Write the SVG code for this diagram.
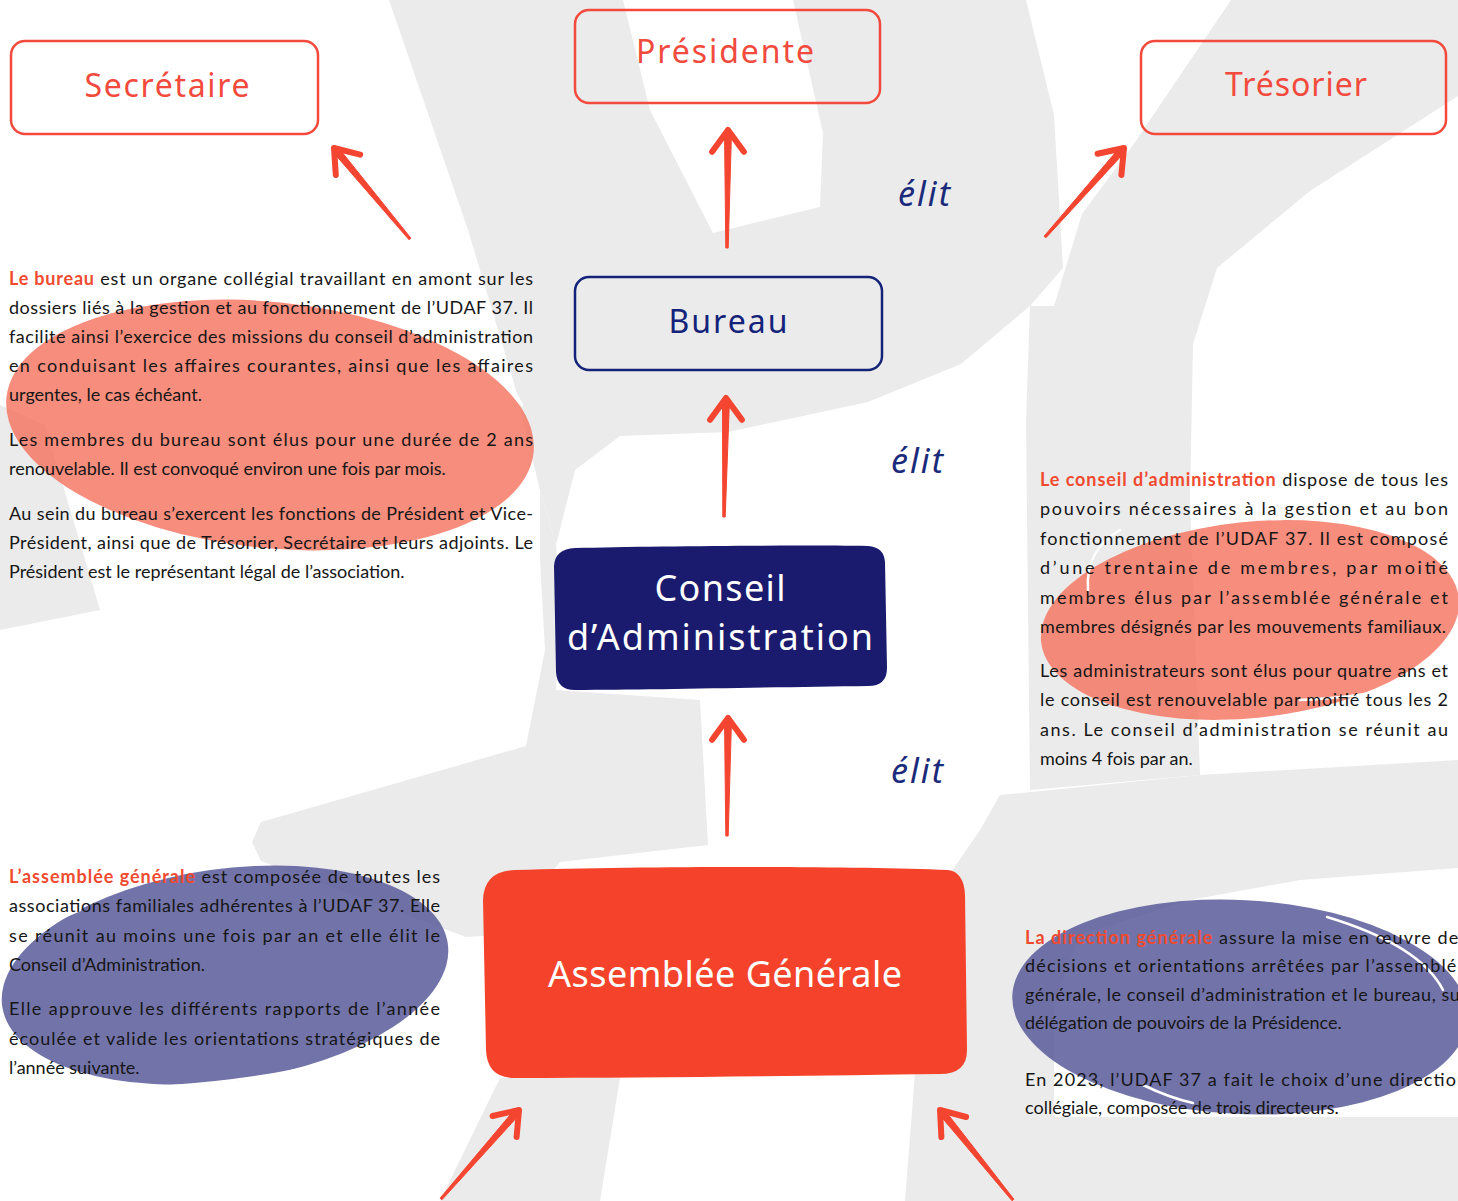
<svg xmlns="http://www.w3.org/2000/svg" width="1458" height="1201" viewBox="0 0 1458 1201">
<defs>
<style>
.bg{fill:#ebebeb}
.outR{fill:none;stroke:#f24a3c;stroke-width:2.5}
.outB{fill:none;stroke:#14237a;stroke-width:2.5}
.lblR{font-family:"Noto Sans",Lato,sans-serif;font-size:32px;fill:#f24a3c;text-anchor:middle}
.lblB{font-family:"Noto Sans",Lato,sans-serif;font-size:32px;fill:#14237a;text-anchor:middle}
.lblW{font-family:"Noto Sans",Lato,sans-serif;font-size:36px;fill:#ffffff;text-anchor:middle}
.elit{font-family:"Noto Sans",Lato,sans-serif;font-style:italic;font-size:34px;fill:#1b2a7a}
.body{font-family:Lato,"Liberation Sans",sans-serif;font-size:18px;fill:#161616}
.hl{fill:#f04a2f;font-weight:bold}
.shaft{fill:#f44531;stroke:#f44531;stroke-width:1;stroke-linejoin:round}
.head{fill:none;stroke:#f44531;stroke-width:6;stroke-linecap:round;stroke-linejoin:round}
.swoosh{fill:none;stroke:#ffffff;stroke-width:2.5;stroke-linecap:round}
</style>
</defs>
<rect width="1458" height="1201" fill="#ffffff"/>
<g id="background">
<path class="bg" d="M389,0 L468,230 L514,383 L540,490 L556,545 L575,470 L620,436 L728,432 L868,402 L961,364 L1030,306 L1063,268 L1054,115 L1026,0 L793,0 L823,133 L820,207 L713,233 L650,110 L623,0 Z"/>
<path class="bg" d="M540,490 L556,545 L560,600 L556,690 L700,700 L708,845 L560,862 L500,935 L466,937 L261,861 L252,842 L261,822 L526,746 L545,650 L540,560 Z"/>
<path class="bg" d="M440,1201 L500,1078 L620,1078 L600,1201 Z"/>
<path class="bg" d="M1231,0 L1458,0 L1458,96 L1310,191 L1217,268 L1193,344 L1190,500 L1200,775 L1030,790 L1026,421 L1030,306 L1054,306 L1082,214 L1133,145 Z"/>
<path class="bg" d="M1000,795 L1200,775 L1458,760 L1458,868 L1300,880 L1190,900 L1080,935 L1054,1000 L1054,1117 L1458,1117 L1458,1201 L905,1201 L928,906 L980,830 Z"/>
<path class="bg" d="M0,405 L45,425 L100,610 L0,630 Z"/>
</g>
<g id="blobs">
<ellipse cx="270" cy="425" rx="265" ry="123" transform="rotate(6 270 425)" fill="#f5705c" fill-opacity="0.8"/>
<path class="swoosh" d="M360 306 Q 480 318 522 405"/>
<ellipse cx="1250" cy="620" rx="210" ry="98" transform="rotate(-6 1250 620)" fill="#f5705c" fill-opacity="0.8"/>
<path class="swoosh" d="M1120 530 Q 1085 550 1088 590"/>
<path class="swoosh" d="M1300 700 Q 1350 698 1388 690"/>
<ellipse cx="225" cy="975" rx="225" ry="106" transform="rotate(-8 225 975)" fill="#595b9a" fill-opacity="0.85"/>
<path class="swoosh" d="M80 910 Q 30 930 12 953"/>
<path class="swoosh" d="M173 1086 Q 260 1080 333 1062"/>
<ellipse cx="1240" cy="1007" rx="228" ry="107" transform="rotate(3 1240 1007)" fill="#595b9a" fill-opacity="0.85"/>
<path class="swoosh" d="M1327 917 Q 1420 945 1443 990"/>
<path class="swoosh" d="M1143 1085 Q 1170 1098 1193 1103"/>
</g>
<g id="text-bureau" class="body">
<text x="9" y="285" textLength="524" lengthAdjust="spacing"><tspan class="hl">Le bureau</tspan> est un organe collégial travaillant en amont sur les</text>
<text x="9" y="314" textLength="524" lengthAdjust="spacing">dossiers liés à la gestion et au fonctionnement de l’UDAF 37. Il</text>
<text x="9" y="343" textLength="524" lengthAdjust="spacing">facilite ainsi l’exercice des missions du conseil d’administration</text>
<text x="9" y="372" textLength="524" lengthAdjust="spacing">en conduisant les affaires courantes, ainsi que les affaires</text>
<text x="9" y="401">urgentes, le cas échéant.</text>
<text x="9" y="446" textLength="524" lengthAdjust="spacing">Les membres du bureau sont élus pour une durée de 2 ans</text>
<text x="9" y="475">renouvelable. Il est convoqué environ une fois par mois.</text>
<text x="9" y="520" textLength="524" lengthAdjust="spacing">Au sein du bureau s’exercent les fonctions de Président et Vice-</text>
<text x="9" y="549" textLength="524" lengthAdjust="spacing">Président, ainsi que de Trésorier, Secrétaire et leurs adjoints. Le</text>
<text x="9" y="578">Président est le représentant légal de l’association.</text>
</g>
<g id="text-conseil" class="body">
<text x="1040" y="486" textLength="408" lengthAdjust="spacing"><tspan class="hl">Le conseil d’administration</tspan> dispose de tous les</text>
<text x="1040" y="515" textLength="408" lengthAdjust="spacing">pouvoirs nécessaires à la gestion et au bon</text>
<text x="1040" y="545" textLength="408" lengthAdjust="spacing">fonctionnement de l’UDAF 37. Il est composé</text>
<text x="1040" y="574" textLength="408" lengthAdjust="spacing">d’une trentaine de membres, par moitié</text>
<text x="1040" y="604" textLength="408" lengthAdjust="spacing">membres élus par l’assemblée générale et</text>
<text x="1040" y="633" textLength="406" lengthAdjust="spacing">membres désignés par les mouvements familiaux.</text>
<text x="1040" y="677" textLength="408" lengthAdjust="spacing">Les administrateurs sont élus pour quatre ans et</text>
<text x="1040" y="706" textLength="408" lengthAdjust="spacing">le conseil est renouvelable par moitié tous les 2</text>
<text x="1040" y="736" textLength="408" lengthAdjust="spacing">ans. Le conseil d’administration se réunit au</text>
<text x="1040" y="765">moins 4 fois par an.</text>
</g>
<g id="text-ag" class="body">
<text x="9" y="883" textLength="431" lengthAdjust="spacing"><tspan class="hl">L’assemblée générale</tspan> est composée de toutes les</text>
<text x="9" y="912" textLength="431" lengthAdjust="spacing">associations familiales adhérentes à l’UDAF 37. Elle</text>
<text x="9" y="942" textLength="431" lengthAdjust="spacing">se réunit au moins une fois par an et elle élit le</text>
<text x="9" y="971">Conseil d’Administration.</text>
<text x="9" y="1015" textLength="431" lengthAdjust="spacing">Elle approuve les différents rapports de l’année</text>
<text x="9" y="1045" textLength="431" lengthAdjust="spacing">écoulée et valide les orientations stratégiques de</text>
<text x="9" y="1074">l’année suivante.</text>
</g>
<g id="text-direction" class="body">
<text x="1025" y="944" textLength="442" lengthAdjust="spacing"><tspan class="hl">La direction générale</tspan> assure la mise en œuvre des</text>
<text x="1025" y="972" textLength="442" lengthAdjust="spacing">décisions et orientations arrêtées par l’assemblée</text>
<text x="1025" y="1001" textLength="442" lengthAdjust="spacing">générale, le conseil d’administration et le bureau, sur</text>
<text x="1025" y="1029">délégation de pouvoirs de la Présidence.</text>
<text x="1025" y="1086" textLength="442" lengthAdjust="spacing">En 2023, l’UDAF 37 a fait le choix d’une direction</text>
<text x="1025" y="1114">collégiale, composée de trois directeurs.</text>
</g>
<g id="node-secretaire">
<rect class="outR" x="11" y="41" width="307" height="93" rx="14"/>
<text class="lblR" x="167" y="97" textLength="165" lengthAdjust="spacing">Secrétaire</text>
</g>
<g id="node-presidente">
<rect class="outR" x="575" y="10" width="305" height="93" rx="14"/>
<text class="lblR" x="725" y="63" textLength="178" lengthAdjust="spacing">Présidente</text>
</g>
<g id="node-tresorier">
<rect class="outR" x="1141" y="41" width="305" height="93" rx="14"/>
<text class="lblR" x="1296" y="96" textLength="142" lengthAdjust="spacing">Trésorier</text>
</g>
<g id="node-bureau">
<rect class="outB" x="575" y="277" width="307" height="93" rx="14"/>
<text class="lblB" x="728" y="333" textLength="119" lengthAdjust="spacing">Bureau</text>
</g>
<g id="node-conseil">
<path d="M575 548 C650 546 800 545 868 546 Q884 547 885 562 L887 668 Q887 686 868 686 C780 687 650 690 575 690 Q557 690 556 672 L554 566 Q555 549 575 548 Z" fill="#1a1b6e"/>
<text class="lblW" x="720" y="601" textLength="131" lengthAdjust="spacing">Conseil</text>
<text class="lblW" x="720" y="650" textLength="306" lengthAdjust="spacing">d’Administration</text>
</g>
<g id="node-ag">
<path d="M515 870 C650 866 850 866 948 870 Q964 872 965 895 L967 1050 Q967 1074 940 1074 C800 1076 650 1078 515 1078 Q487 1078 486 1050 L483 900 Q484 871 515 870 Z" fill="#f5432b"/>
<text class="lblW" x="725" y="987" textLength="354" lengthAdjust="spacing">Assemblée Générale</text>
</g>
<g id="labels">
<text class="elit" x="898" y="206" textLength="52" lengthAdjust="spacing">élit</text>
<text class="elit" x="891" y="473" textLength="52" lengthAdjust="spacing">élit</text>
<text class="elit" x="891" y="783" textLength="52" lengthAdjust="spacing">élit</text>
</g>
<g id="connectors">
<g id="arrow-secretaire"><path class="shaft" d="M409.1,239.8 L410.9,238.2 L337.7,146.8 L332.3,151.2 Z"/><path class="head" d="M335.8,174.9 L334,148 L360.2,154.6"/></g>
<g id="arrow-presidente"><path class="shaft" d="M725.8,248 L728.2,248 L731.5,131 L724.5,131 Z"/><path class="head" d="M712.1,151.8 L728,130 L743.9,151.8"/></g>
<g id="arrow-tresorier"><path class="shaft" d="M1044.1,236.2 L1045.9,237.8 L1125.6,151.3 L1120.4,146.7 Z"/><path class="head" d="M1097.6,153.8 L1124,148 L1121.4,174.9"/></g>
<g id="arrow-bureau"><path class="shaft" d="M722.8,517 L725.2,517 L729.5,399 L722.5,399 Z"/><path class="head" d="M710.1,419.8 L726,398 L741.9,419.8"/></g>
<g id="arrow-conseil"><path class="shaft" d="M725.8,836 L728.2,836 L731.5,719 L724.5,719 Z"/><path class="head" d="M712.1,739.8 L728,718 L743.9,739.8"/></g>
<g id="arrow-ag-left"><path class="shaft" d="M440.1,1198.2 L441.9,1199.8 L520.6,1113.3 L515.4,1108.7 Z"/><path class="head" d="M492.6,1116 L519,1110 L516.6,1136.9"/></g>
<g id="arrow-ag-right"><path class="shaft" d="M1012.1,1200.8 L1013.9,1199.2 L943.7,1108.8 L938.3,1113.2 Z"/><path class="head" d="M941.4,1137 L940,1110 L966.1,1117"/></g>
</g>
</svg>
